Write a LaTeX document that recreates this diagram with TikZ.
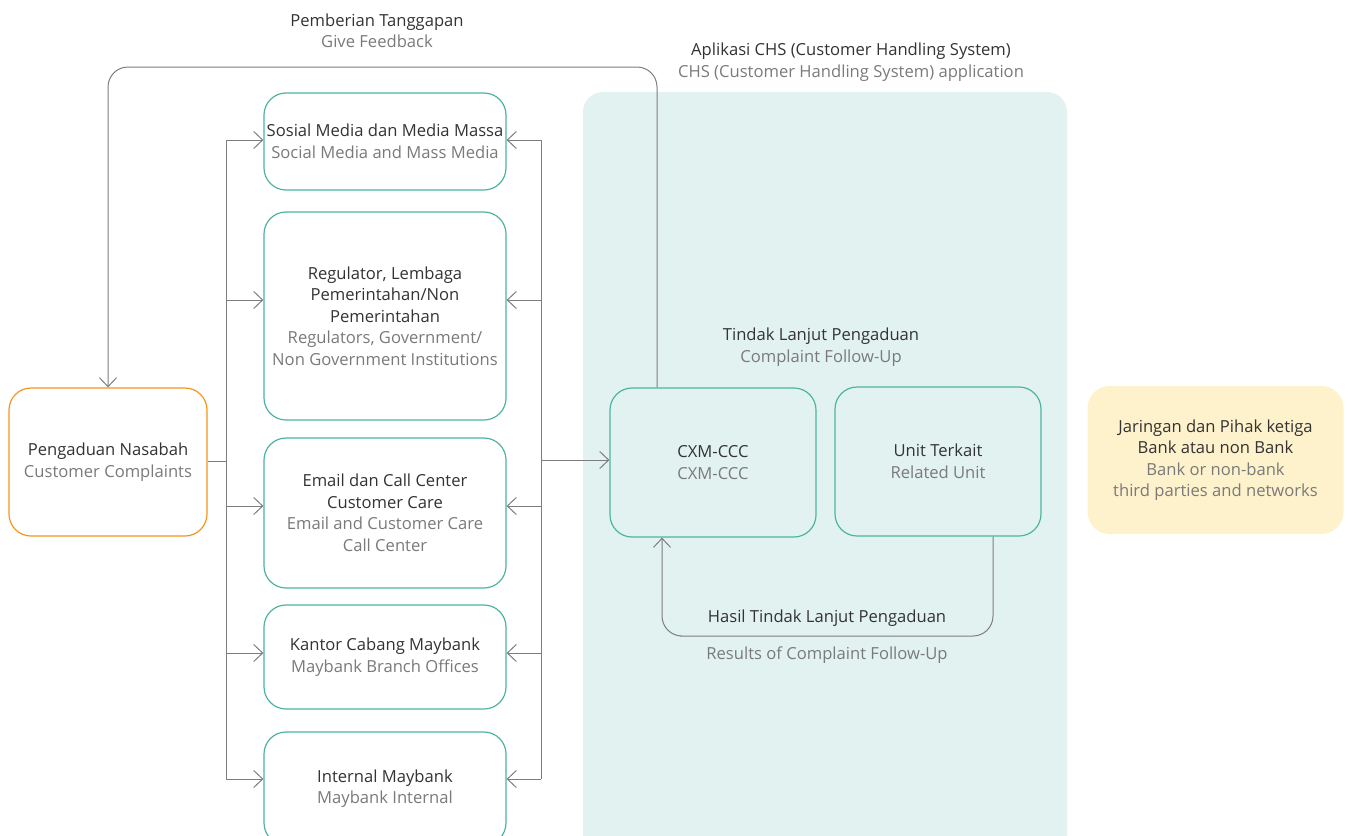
\documentclass[tikz,border=0pt]{standalone}
\usepackage{fontspec}
\setmainfont{Open Sans}
\usepackage{tikz}
\usetikzlibrary{arrows.meta,positioning,calc}
\definecolor{textdark}{RGB}{51,51,51}
\definecolor{textgray}{RGB}{122,122,122}
\definecolor{linegray}{RGB}{125,125,125}
\definecolor{tealline}{RGB}{77,180,160}
\definecolor{tealbg}{RGB}{226,242,240}
\definecolor{orangeline}{RGB}{247,148,30}
\definecolor{yellowbg}{RGB}{253,242,204}

\begin{document}
\begin{tikzpicture}[x=1pt, y=-1pt,
        every node/.style={font=\fontsize{16.6}{21.5}\selectfont, text=textdark, align=center},
        box/.style={rectangle, draw=tealline, line width=1.2pt, fill=white, rounded corners=22pt, minimum width=242pt, inner sep=1pt},
        flowbox/.style={box, draw=tealline, fill=tealbg, minimum width=206pt, minimum height=149pt},
        arrow/.style={-{Straight Barb[length=9pt,width=17pt]}, line width=1pt, linegray},
        line/.style={line width=1pt, linegray},
        sub/.style={text=textgray}
    ]
    \clip (0,0) rectangle (1348,835);
    % panel behind the CHS application
    \fill[tealbg, rounded corners=20pt] (583,92) rectangle (1067,860);

    \node[box, draw=orangeline, minimum width=198pt, minimum height=148pt] (nasabah) at (108,462) {Pengaduan Nasabah\\\color{textgray}Customer Complaints};

    \node[box, minimum height=97pt] (sosial) at (385,141.5) {Sosial Media dan Media Massa\\\color{textgray}Social Media and Mass Media};
    \node[box, minimum height=208pt] (regulator) at (385,316) {Regulator, Lembaga\\Pemerintahan/Non\\Pemerintahan\\\color{textgray}Regulators, Government/\\\color{textgray}Non Government Institutions};
    \node[box, minimum height=150pt] (email) at (385,513) {Email dan Call Center\\Customer Care\\\color{textgray}Email and Customer Care\\\color{textgray}Call Center};
    \node[box, minimum height=104pt] (kantor) at (385,657) {Kantor Cabang Maybank\\\color{textgray}Maybank Branch Offices};
    \node[box, minimum height=113pt] (internal) at (385,788.5) {Internal Maybank\\\color{textgray}Maybank Internal};

    \node[flowbox] (cxm) at (713,462.5) {CXM-CCC\\\color{textgray}CXM-CCC};
    \node[flowbox] (unit) at (938,461.5) {Unit Terkait\\\color{textgray}Related Unit};

    \node[box, draw=none, fill=yellowbg, minimum width=256pt, minimum height=148pt] (jaringan) at (1215.5,460) {Jaringan dan Pihak ketiga\\Bank atau non Bank\\\color{textgray}Bank or non-bank\\\color{textgray}third parties and networks};

    % labels
    \node (tanggapan) at (377,31) {Pemberian Tanggapan\\\color{textgray}Give Feedback};
    \node (chs) at (851,62) {Aplikasi CHS (Customer Handling System)\\\color{textgray}CHS (Customer Handling System) application};
    \node (tindak) at (821,347) {Tindak Lanjut Pengaduan\\\color{textgray}Complaint Follow-Up};
    \node (hasil) at (827,618) {Hasil Tindak Lanjut Pengaduan};
    \node[sub] (results) at (827,655) {Results of Complaint Follow-Up};

    % channels in
    \coordinate (fb) at (0,67);
    \draw[line] (nasabah.east |- 0,461) -- (226,461);
    \draw[line] (226,140) -- (226,779);
    \foreach \n/\y in {sosial/140, regulator/300, email/506, kantor/653, internal/779}
        \draw[arrow] (226,\y) -- (\n.west |- 0,\y);

    % channels out to CXM-CCC
    \draw[line] (541,140) -- (541,779);
    \foreach \n/\y in {sosial/140, regulator/300, email/506, kantor/653, internal/779}
        \draw[arrow] (541,\y) -- (\n.east |- 0,\y);
    \draw[arrow] (541,460) -- (cxm.west |- 0,460);

    % feedback to the customer
    \draw[arrow, rounded corners=20pt] ([xshift=-56pt]cxm.north) |- (nasabah.north |- fb) -- (nasabah.north);

    % follow-up results
    \draw[arrow, rounded corners=20pt] ([xshift=55pt]unit.south) |- (700,636) -| ([xshift=-51pt]cxm.south);
\end{tikzpicture}
\end{document}
